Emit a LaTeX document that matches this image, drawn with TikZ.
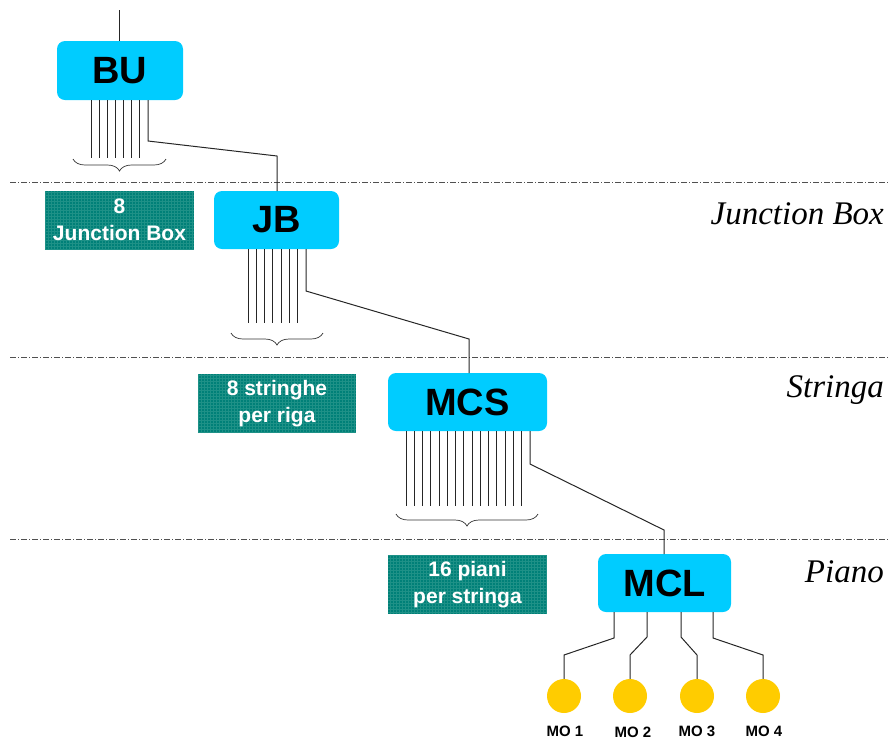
\documentclass[tikz,border=0pt]{standalone}
\usepackage{fontspec}
\setmainfont{Liberation Serif}
\setsansfont{Liberation Sans}
\usetikzlibrary{decorations.pathreplacing}
\definecolor{cyanbox}{RGB}{0,204,255}
\definecolor{tealbox}{RGB}{0,128,120}
\definecolor{tealgrid}{RGB}{30,145,135}
\definecolor{moyellow}{RGB}{255,204,0}
\definecolor{sepgray}{RGB}{80,80,80}
\tikzset{
  cbox/.style={fill=cyanbox, rounded corners=8pt, inner sep=0pt, font=\sffamily\bfseries\fontsize{38}{38}\selectfont},
  tbox/.style={fill=tealbox, inner sep=0pt, text=white, align=center, font=\sffamily\bfseries\fontsize{21}{27}\selectfont},
  wire/.style={draw=black!85, line width=1pt},
  sep/.style={draw=sepgray, line width=0.6pt, dash pattern=on 6pt off 2pt on 1pt off 2pt},
  lvl/.style={anchor=east, inner sep=0pt, font=\itshape\fontsize{33}{33}\selectfont},
  mo/.style={circle, fill=moyellow, minimum size=34pt, inner sep=0pt},
  molab/.style={inner sep=0pt, font=\sffamily\bfseries\fontsize{15}{15}\selectfont},
  brc/.style={draw=black!80, line width=0.7pt, decorate, decoration={brace, mirror, amplitude=12pt}}
}
\begin{document}
\begin{tikzpicture}[x=1pt,y=-1pt]
\useasboundingbox (0,0) rectangle (890,740);
% separators
\foreach \yy in {182,357,539} \draw[sep] (10,\yy) -- (890,\yy);
% level labels
\node[lvl] (lj) at (884,214) {Junction Box};
\node[lvl] (ls) at (884,390) {Stringa};
\node[lvl] (lp) at (884,572) {Piano};
% teal boxes
\foreach \nm/\cx/\cy/\ww/\hh/\txt in {t1/119.5/220/149/58/{8\\Junction Box}, t2/277/403.5/158/59/{8 stringhe\\per riga}, t3/467.5/584.5/159/59/{16 piani\\per stringa}}{
  \node[tbox, minimum width=\ww pt, minimum height=\hh pt] (\nm) at (\cx,\cy) {};
  \begin{scope}
    \clip (\nm.south west) rectangle (\nm.north east);
    \draw[tealgrid, line width=0.3pt, step=3pt] (\nm.south west) grid (\nm.north east);
  \end{scope}
  \node[tbox, fill=none] at (\nm.center) {\txt};
}
% cyan boxes
\node[cbox, minimum width=126pt, minimum height=59pt] (bu) at (120,70.5) {BU};
\node[cbox, minimum width=125pt, minimum height=58pt] (jb) at (276.5,220) {JB};
\node[cbox, minimum width=159pt, minimum height=58pt] (mcs) at (467.5,402) {MCS};
\node[cbox, minimum width=133pt, minimum height=58pt] (mcl) at (664.5,583) {MCL};
% top feed
\coordinate (top) at (119,10);
\draw[wire] (top) -- (top |- bu.north);
% BU fan
\foreach \i in {0,...,6} \draw[wire] (91+\i*8.14,100) -- (91+\i*8.14,158);
\draw[wire] (148,100) -- (148,141) -- (277,156) -- (277,191);
\draw[brc] (73,159) -- (166,159);
% JB fan
\foreach \i in {0,...,6} \draw[wire] (248+\i*8.29,249) -- (248+\i*8.29,323);
\draw[wire] (306,249) -- (306,291) -- (469,339) -- (469,373);
\draw[brc] (231,333) -- (323,333);
% MCS fan
\foreach \i in {0,...,14} \draw[wire] (406+\i*8.27,431) -- (406+\i*8.27,506);
\draw[wire] (530,431) -- (530,464) -- (664,530) -- (664,554);
\draw[brc] (396,514) -- (538,514);
% MO circles
\node[mo] (mo1) at (564,696) {};
\node[mo] (mo2) at (630,696) {};
\node[mo] (mo3) at (697,696) {};
\node[mo] (mo4) at (763,696) {};
\draw[wire] (614,612) -- (614,638) -- (564,655) -- (mo1.north);
\draw[wire] (647,612) -- (647,637) -- (630,655) -- (mo2.north);
\draw[wire] (681,612) -- (681,637) -- (697,655) -- (mo3.north);
\draw[wire] (713,612) -- (713,638) -- (763,655) -- (mo4.north);
\node[molab] at (565,731) {MO 1};
\node[molab] at (633,732) {MO 2};
\node[molab] at (697,731) {MO 3};
\node[molab] at (764,731) {MO 4};
\end{tikzpicture}
\end{document}
